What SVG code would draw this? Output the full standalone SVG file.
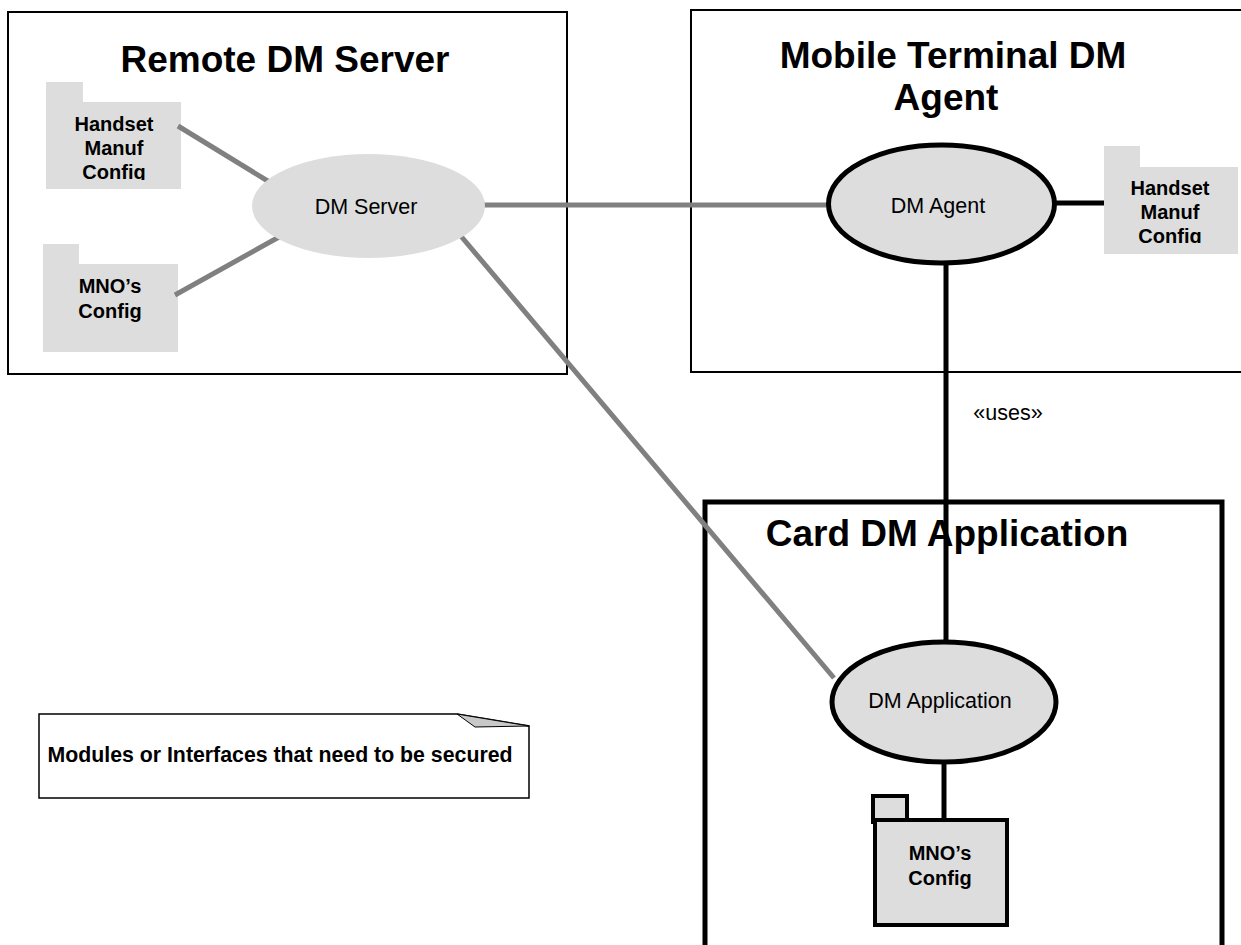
<svg xmlns="http://www.w3.org/2000/svg" width="1241" height="945" viewBox="0 0 1241 945">
<style>
.box{fill:none;stroke:#000;stroke-width:2}
.card{fill:none;stroke:#000;stroke-width:5}
.title{font-family:"Liberation Sans",Arial,sans-serif;font-weight:bold;font-size:37px;text-anchor:middle;fill:#000}
.lbl{font-family:"Liberation Sans",Arial,sans-serif;font-size:21.5px;text-anchor:middle;fill:#000}
.blbl{font-family:"Liberation Sans",Arial,sans-serif;font-weight:bold;font-size:20px;text-anchor:middle;fill:#000}
.fold{fill:#dddddd;stroke:none}
.foldk{fill:#dddddd;stroke:#000;stroke-width:4}
.gline{stroke:#808080;stroke-width:5;fill:none}
.kline{stroke:#000;stroke-width:5;fill:none}
</style>
<defs>
<clipPath id="c1"><rect x="40" y="80" width="150" height="100"/></clipPath>
<clipPath id="c2"><rect x="1100" y="140" width="141" height="103"/></clipPath>
</defs>
<rect width="1241" height="945" fill="#fff"/>
<g id="remote-dm-server">
<rect class="box" x="8" y="12" width="559" height="362"/>
<text class="title" x="285" y="72">Remote DM Server</text>
</g>
<g id="mobile-terminal">
<rect class="box" x="691" y="10" width="560" height="362"/>
<text class="title" x="953" y="68">Mobile Terminal DM</text>
<text class="title" x="946" y="110">Agent</text>
</g>
<g id="card-dm-application">
<rect class="card" x="705" y="502" width="517" height="460"/>
<text class="title" x="947" y="546">Card DM Application</text>
</g>
<g id="handset-config-left">
<rect class="fold" x="46" y="82" width="37" height="25"/>
<rect class="fold" x="46" y="102" width="135" height="87"/>
<g clip-path="url(#c1)">
<text class="blbl" x="114" y="131">Handset</text>
<text class="blbl" x="114" y="155">Manuf</text>
<text class="blbl" x="114" y="179">Config</text>
</g>
</g>
<g id="mno-config-left">
<rect class="fold" x="43" y="244" width="36" height="25"/>
<rect class="fold" x="43" y="264" width="135" height="88"/>
<text class="blbl" x="110" y="293">MNO’s</text>
<text class="blbl" x="110" y="318">Config</text>
</g>
<g id="connectors">
<line class="gline" x1="178" y1="126" x2="271" y2="183"/>
<line class="gline" x1="175" y1="295" x2="279" y2="237"/>
<line class="gline" x1="483" y1="205" x2="830" y2="205"/>
<line class="gline" x1="460" y1="235" x2="834" y2="678"/>
<line class="kline" x1="1055" y1="203" x2="1104" y2="203"/>
<line class="kline" x1="946" y1="264" x2="946" y2="641"/>
<line class="kline" x1="944" y1="763" x2="944" y2="820"/>
<text class="lbl" x="1008" y="420">«uses»</text>
</g>
<g id="dm-server">
<ellipse cx="368.5" cy="206" rx="116.5" ry="52" fill="#dddddd"/>
<text class="lbl" x="366" y="214">DM Server</text>
</g>
<g id="dm-agent">
<ellipse cx="941.5" cy="204" rx="113" ry="59" fill="#dddddd" stroke="#000" stroke-width="5"/>
<text class="lbl" x="938" y="213">DM Agent</text>
</g>
<g id="handset-config-right">
<rect class="fold" x="1104" y="146" width="36" height="25"/>
<rect class="fold" x="1104" y="167" width="134" height="87"/>
<g clip-path="url(#c2)">
<text class="blbl" x="1170" y="195">Handset</text>
<text class="blbl" x="1170" y="219">Manuf</text>
<text class="blbl" x="1170" y="243">Config</text>
</g>
</g>
<g id="dm-application">
<ellipse cx="944" cy="702" rx="112" ry="60" fill="#dddddd" stroke="#000" stroke-width="5"/>
<text class="lbl" x="940" y="708">DM Application</text>
</g>
<g id="mno-config-card">
<rect class="foldk" x="873" y="796" width="34" height="26"/>
<rect class="foldk" x="875" y="820" width="132" height="105"/>
<text class="blbl" x="940" y="860">MNO’s</text>
<text class="blbl" x="940" y="885">Config</text>
</g>
<g id="note">
<path d="M39,714 L457,714 L529,726 L529,798 L39,798 Z" fill="#fff" stroke="#000" stroke-width="1.5"/>
<path d="M457,714 L475,727 L529,726 Z" fill="#c8c8c8" stroke="#000" stroke-width="1"/>
<text class="blbl" x="280" y="762" style="font-size:21.3px">Modules or Interfaces that need to be secured</text>
</g>
</svg>
